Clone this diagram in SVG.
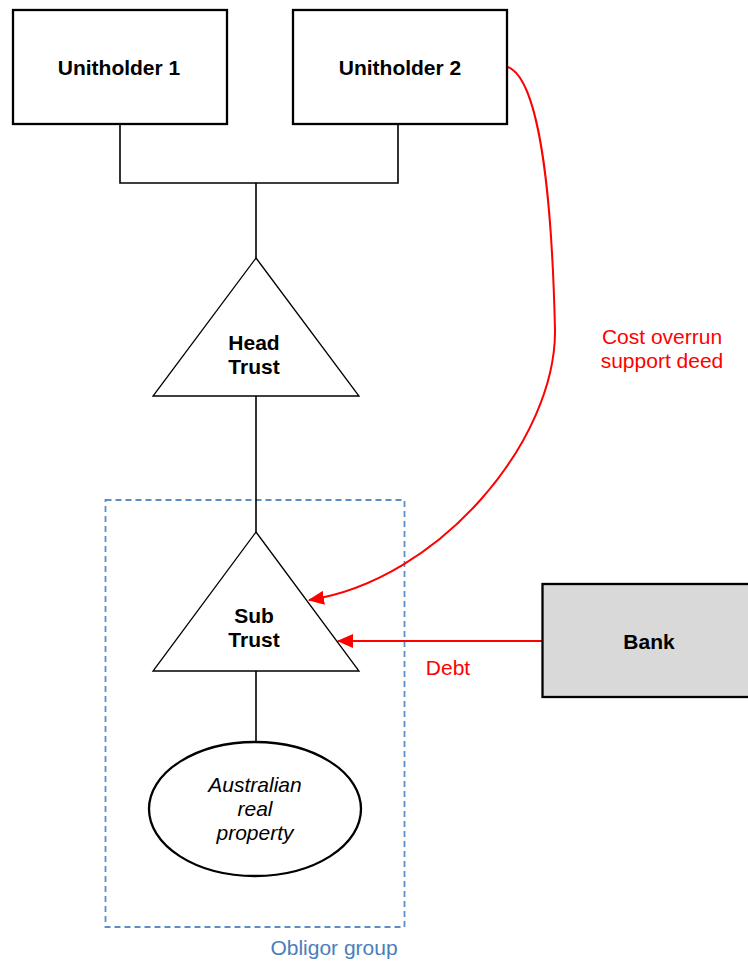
<svg xmlns="http://www.w3.org/2000/svg" width="748" height="961" viewBox="0 0 748 961">
<style>
.box{fill:#fff;stroke:#000;stroke-width:2.3}
.tri{fill:#fff;stroke:#000;stroke-width:1.3}
.ln{fill:none;stroke:#000;stroke-width:1.6}
.red{fill:none;stroke:#ff0000;stroke-width:2}
.b{font-family:"Liberation Sans",Arial,sans-serif;font-size:21px;font-weight:bold;text-anchor:middle;fill:#000}
.i{font-family:"Liberation Sans",Arial,sans-serif;font-size:21px;font-style:italic;text-anchor:middle;fill:#000}
.r{font-family:"Liberation Sans",Arial,sans-serif;font-size:21px;text-anchor:middle;fill:#ff0000}
.g{font-family:"Liberation Sans",Arial,sans-serif;font-size:21px;text-anchor:middle;fill:#4a7ebb}
</style>
<defs>
<marker id="ah" viewBox="0 0 16 14" refX="15" refY="7" markerWidth="16" markerHeight="14" markerUnits="userSpaceOnUse" orient="auto">
<path d="M0,0 L16,7 L0,14 Z" fill="#ff0000"/>
</marker>
</defs>
<rect width="748" height="961" fill="#fff"/>
<g id="obligor-group">
<rect x="105.5" y="500" width="299" height="427" fill="none" stroke="#5b8dc9" stroke-width="1.8" stroke-dasharray="6,4"/>
<text class="g" x="334" y="955">Obligor group</text>
</g>
<g id="connectors">
<polyline class="ln" points="120,124 120,183 398,183 398,124"/>
<line class="ln" x1="256" y1="183" x2="256" y2="258"/>
<line class="ln" x1="256" y1="396" x2="256" y2="532"/>
<line class="ln" x1="256" y1="671" x2="256" y2="742"/>
<path class="red" d="M508,67 C540,80 552,200 555,330 C556,440 440,580 309,600" marker-end="url(#ah)"/>
<line class="red" x1="542" y1="641" x2="338" y2="641" marker-end="url(#ah)"/>
<text class="r" x="662" y="344">Cost overrun</text>
<text class="r" x="662" y="368">support deed</text>
<text class="r" x="448" y="675">Debt</text>
</g>
<g id="unitholder1">
<rect class="box" x="13" y="10" width="214" height="114"/>
<text class="b" x="119" y="75">Unitholder 1</text>
</g>
<g id="unitholder2">
<rect class="box" x="293" y="10" width="214" height="114"/>
<text class="b" x="400" y="75">Unitholder 2</text>
</g>
<g id="head-trust">
<polygon class="tri" points="256,258 359,396 153,396"/>
<text class="b" x="254" y="350">Head</text>
<text class="b" x="254" y="374">Trust</text>
</g>
<g id="sub-trust">
<polygon class="tri" points="256,532 359,671 153,671"/>
<text class="b" x="254" y="623">Sub</text>
<text class="b" x="254" y="647">Trust</text>
</g>
<g id="property">
<ellipse cx="255" cy="809" rx="106" ry="67" fill="#fff" stroke="#000" stroke-width="2.3"/>
<text class="i" x="255" y="792">Australian</text>
<text class="i" x="255" y="816">real</text>
<text class="i" x="255" y="840">property</text>
</g>
<g id="bank">
<rect x="542.5" y="584" width="210" height="113" fill="#d9d9d9" stroke="#000" stroke-width="2.3"/>
<text class="b" x="649" y="649">Bank</text>
</g>
</svg>
